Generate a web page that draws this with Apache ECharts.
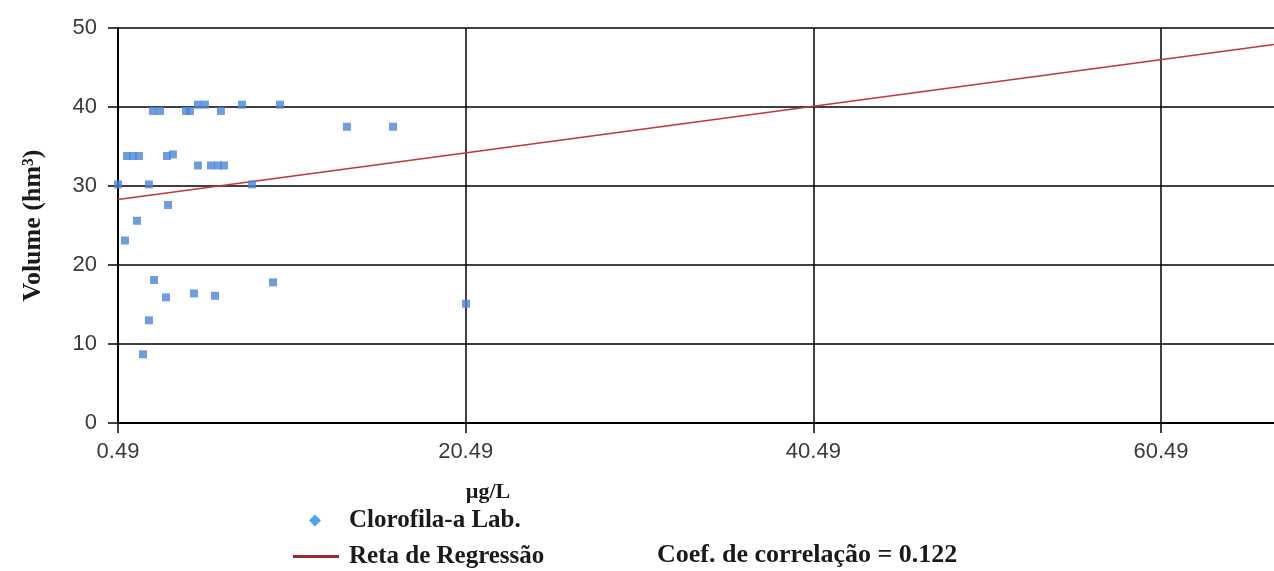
<!DOCTYPE html>
<html>
<head>
<meta charset="utf-8">
<script src="https://cdn.jsdelivr.net/npm/echarts@6/dist/echarts.min.js"></script>
<style>html,body{margin:0;padding:0;background:#fff}#c{width:1274px;height:571px}</style>
</head>
<body>
<div id="c"></div>
<script>
// Axis origin for x (ticks are 0.49 + k*20)
const X0 = 0.49;
const X_MAX = 66.99;
const X_INTERVAL = 20;
const Y_MIN = 0, Y_MAX = 50, Y_INTERVAL = 10;

// Clorofila-a Lab. (µg/L) vs Volume (hm³)
const chlX = [0.49, 0.89, 1.01, 1.35, 1.70, 1.58, 1.93, 2.27, 2.27, 2.50, 2.56, 2.91, 3.25, 3.31, 3.37, 3.65, 4.40, 4.63, 4.86, 5.09, 5.09, 5.49, 5.84, 6.07, 6.24, 6.41, 6.59, 7.62, 8.20, 9.41, 9.81, 13.66, 16.31, 20.51];
const volY = [30.2, 23.1, 33.8, 33.8, 33.8, 25.6, 8.7, 30.2, 13.0, 39.5, 18.1, 39.5, 15.9, 33.8, 27.6, 34.0, 39.5, 39.5, 16.4, 40.3, 32.6, 40.3, 32.6, 16.1, 32.6, 39.5, 32.6, 40.3, 30.2, 17.8, 40.3, 37.5, 37.5, 15.1];

// Regression line end points
const regX = [0.49, 66.99];
const regY = [28.3, 47.9];

const seriesNames = ['Clorofila-a Lab.', 'Reta de Regressão'];
const corrText = 'Coef. de correlação = 0.122';
const xTitle = 'µg/L';
const yTitle = 'Volume (hm³)';

const scatterData = chlX.map((x, i) => [x - X0, volY[i]]);
const lineData = regX.map((x, i) => [x - X0, regY[i]]);

const chart = echarts.init(document.getElementById('c'), null, {renderer: 'canvas'});
const labelFont = {fontFamily: 'Liberation Sans, Arial, sans-serif', fontSize: 22, color: '#3a3a3a'};
const serifFam = '"Liberation Serif", "Times New Roman", serif';
const serifBold = {fontFamily: serifFam, fontWeight: 'bold', color: '#1a1a1a'};

chart.setOption({
  animation: false,
  backgroundColor: '#fff',
  grid: {left: 118, right: 0, top: 28, bottom: 148, containLabel: false},
  xAxis: {
    type: 'value', min: 0, max: X_MAX - X0, interval: X_INTERVAL,
    name: xTitle, nameLocation: 'middle', nameGap: 58,
    nameTextStyle: Object.assign({}, serifBold, {fontSize: 22, padding: [0, 416, 0, 0]}),
    axisLine: {show: true, lineStyle: {color: '#000', width: 2}},
    axisTick: {show: true, length: 10, lineStyle: {color: '#000', width: 1.5}},
    axisLabel: Object.assign({}, labelFont, {margin: 18, showMaxLabel: false,
      formatter: v => (Math.abs(v % X_INTERVAL) < 1e-6 ? (v + X0).toFixed(2) : '')}),
    splitLine: {show: true, lineStyle: {color: ['#000', '#000', '#000', '#000', 'rgba(0,0,0,0)'], width: 1.5}}
  },
  yAxis: {
    type: 'value', min: Y_MIN, max: Y_MAX, interval: Y_INTERVAL,
    name: yTitle, nameLocation: 'middle', nameGap: 72, nameRotate: 90,
    nameTextStyle: Object.assign({}, serifBold, {fontSize: 26}),
    axisLine: {show: true, lineStyle: {color: '#000', width: 2}},
    axisTick: {show: true, length: 10, lineStyle: {color: '#000', width: 1.5}},
    axisLabel: Object.assign({}, labelFont, {margin: 21}),
    splitLine: {show: true, lineStyle: {color: '#000', width: 1.5}}
  },
  legend: [
    {
      left: 304, top: 503, itemWidth: 12, itemHeight: 12,
      textStyle: Object.assign({}, serifBold, {fontSize: 25, padding: [0, 0, 0, 23]}),
      data: [{name: seriesNames[0], icon: 'diamond', itemStyle: {color: '#1e8fef'}}]
    },
    {
      left: 288, top: 539, itemWidth: 46, itemHeight: 3,
      textStyle: Object.assign({}, serifBold, {fontSize: 25, padding: [0, 0, 0, 5]}),
      data: [{name: seriesNames[1], icon: 'rect', itemStyle: {color: '#9b2d30'}}]
    }
  ],
  graphic: [{
    type: 'text', x: 657, y: 555,
    style: {text: corrText, font: 'bold 26px ' + serifFam, fill: '#1a1a1a', align: 'left', verticalAlign: 'middle'}
  }],
  series: [
    {
      name: seriesNames[1], type: 'line', data: lineData, showSymbol: false, symbol: 'none',
      lineStyle: {color: '#c0363a', width: 1.5}, itemStyle: {color: '#9b2d30'}, z: 3
    },
    {
      name: seriesNames[0], type: 'scatter', data: scatterData, symbol: 'rect', symbolSize: 8,
      itemStyle: {color: '#4a86d8'}, z: 4
    }
  ]
});
</script>
</body>
</html>
